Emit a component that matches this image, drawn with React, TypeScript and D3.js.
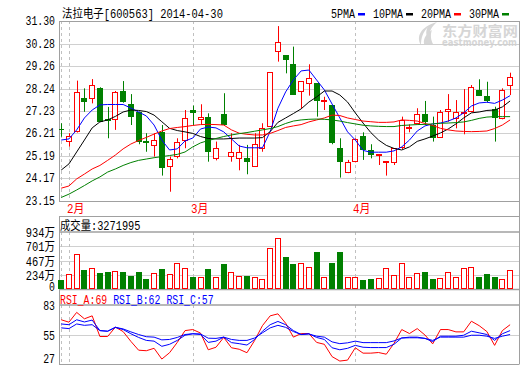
import React from 'react';
import * as d3 from 'd3';

const W = 520, H = 365;

const openP = [26.40,25.84,26.29,27.83,27.76,28.28,26.85,26.80,28.13,27.53, 27.19,25.85,25.66,26.29,24.68,25.16,25.87,27.26,26.80,26.94, 25.05,27.08,25.16,25.05,25.08,24.70,25.51,26.51,29.88,29.76, 29.34,28.07,28.43,28.48,27.62,27.50,25.54,24.41,24.93,26.09, 25.46,25.20,24.90,24.86,25.56,26.40,26.62,27.08,26.59,26.02, 27.17,26.86,27.09,27.17,28.18,27.90,27.30,26.85,28.36];
const highP = [26.67,26.22,28.60,28.25,28.67,28.30,27.41,28.13,28.58,27.99, 27.20,26.22,26.22,26.59,25.16,25.99,27.27,27.47,27.53,27.12, 25.84,28.03,26.22,25.69,25.69,26.22,26.67,28.98,31.07,29.76, 30.14,28.58,29.34,28.48,27.87,27.50,25.99,25.01,25.99,26.26, 25.72,25.27,24.96,25.54,26.97,26.62,27.35,27.68,26.97,27.27, 27.99,27.72,28.22,28.40,28.66,28.55,27.42,28.25,28.96];
const lowP = [26.06,25.61,26.25,27.19,27.57,26.74,25.99,26.37,27.60,26.59, 25.72,25.38,25.16,24.30,23.57,25.08,25.54,26.59,26.59,24.93, 24.99,26.59,24.93,24.54,24.36,24.70,25.38,26.51,29.46,28.93, 27.95,27.35,27.92,26.97,27.27,25.72,24.21,24.41,24.90,25.01, 25.08,24.78,24.30,24.78,25.50,26.26,26.62,26.59,25.84,26.02, 26.74,26.44,26.17,27.17,27.92,27.62,25.84,26.85,27.95];
const closeP = [26.35,26.11,28.07,27.65,28.40,26.74,26.77,28.07,27.62,26.97, 25.84,25.78,25.90,24.63,25.05,25.84,26.92,27.15,26.94,25.38, 25.56,26.59,25.36,25.38,24.93,25.72,26.44,28.98,30.34,29.53, 27.95,28.58,28.73,27.68,27.71,25.76,24.90,24.93,25.96,25.46, 25.23,25.27,24.96,25.54,26.82,26.49,27.08,26.71,26.02,27.19, 27.30,27.19,27.17,28.33,27.92,27.68,26.90,28.18,28.78];

const volume = [161,258,580,322,349,279,295,306,295,231, 295,177,279,338,258,430,349,215,204,338, 204,424,285,225,225,204,172,671,832,526, 419,430,365,607,204,430,607,204,215,161, 172,188,349,242,430,204,269,285,172,188, 295,204,349,365,204,258,204,172,327];

const ma5 = [25.91,25.96,26.37,26.91,27.27,27.50,27.52,27.52,27.52,27.36, 27.18,27.00,26.59,25.91,25.46,25.51,25.87,26.00,26.41,26.50, 26.46,26.28,25.96,25.64,25.56,25.56,25.56,26.29,27.35,28.09, 28.63,29.04,29.08,28.63,28.18,27.54,26.91,26.28,25.91,25.44, 25.36,25.36,25.36,25.42,25.60,25.91,26.32,26.55,26.64,26.68, 26.77,26.91,27.14,27.45,27.59,27.62,27.57,27.72,27.92];
const ma10 = [24.55,24.83,25.37,25.91,26.46,26.73,26.82,26.98,27.18,27.27, 27.25,27.20,27.04,26.74,26.44,26.34,26.28,26.21,26.07,25.98, 25.96,25.96,25.98,26.00,26.00,26.00,26.02,26.29,26.71,26.91, 27.11,27.32,27.63,27.86,28.13,28.13,27.95,27.63,27.14,26.68, 26.25,25.91,25.67,25.53,25.46,25.60,25.85,25.96,26.09,26.23, 26.41,26.64,26.91,27.14,27.18,27.25,27.27,27.41,27.68];
const ma20 = [23.73,23.83,24.15,24.37,24.60,24.76,24.99,25.23,25.51,25.73, 25.89,26.03,26.18,26.32,26.43,26.48,26.52,26.57,26.61,26.62, 26.61,26.59,26.37,26.22,26.17,26.14,26.14,26.21,26.34,26.48, 26.55,26.61,26.73,26.82,26.91,27.04,27.02,26.91,26.84,26.77, 26.74,26.71,26.71,26.73,26.82,26.80,26.77,26.66,26.57,26.44, 26.37,26.32,26.30,26.29,26.30,26.32,26.43,26.59,26.82];
const ma30 = [23.31,23.46,23.65,23.85,24.06,24.24,24.46,24.60,24.76,24.89, 24.99,25.05,25.11,25.16,25.21,25.26,25.37,25.60,25.78,25.89, 25.98,26.07,26.14,26.20,26.25,26.31,26.37,26.43,26.52,26.66, 26.77,26.82,26.85,26.86,26.85,26.82,26.77,26.70,26.64,26.58, 26.55,26.53,26.52,26.52,26.57,26.59,26.61,26.62,26.64,26.67, 26.68,26.70,26.73,26.80,26.89,26.95,26.97,26.97,26.97];

const rsiA = [69.0,66.7,76.0,69.9,72.7,53.1,53.1,62.0,57.8,48.5, 40.1,39.6,41.9,31.7,37.7,47.5,58.7,59.7,56.4,40.5, 42.9,52.2,42.4,41.0,37.7,49.4,63.4,72.7,74.6,65.7, 52.5,55.9,55.9,47.5,45.7,34.0,29.8,30.7,42.4,37.3, 37.3,37.9,36.3,46.6,59.7,55.9,60.6,54.5,46.1,59.7, 59.7,57.5,57.5,67.6,63.4,57.8,44.7,58.7,64.3];
const rsiB = [65.0,64.3,69.0,66.9,68.7,58.7,58.1,61.8,59.7,55.7, 52.2,49.4,48.7,43.8,45.7,49.4,54.3,55.7,55.0,47.5, 48.7,52.5,47.3,46.3,45.0,50.3,58.1,64.3,67.4,64.3, 58.7,55.0,55.7,52.2,50.3,42.4,40.5,41.9,44.7,42.9, 42.6,42.6,42.6,45.7,51.7,52.5,52.5,51.3,48.2,53.4, 53.4,53.4,54.3,58.1,56.6,55.0,49.4,55.7,58.7];
const rsiC = [61.3,60.6,65.0,63.7,64.3,58.7,58.1,61.8,60.3,57.5, 55.0,52.9,52.5,49.9,50.3,52.2,55.0,55.7,55.5,51.5, 51.3,52.5,50.3,49.4,49.4,51.7,56.6,61.3,63.7,61.8, 57.8,55.0,55.5,53.4,52.5,48.0,46.3,47.1,48.7,47.3, 47.3,47.3,47.3,48.9,51.7,51.9,51.9,51.3,49.4,52.5, 52.5,52.5,52.5,54.3,54.3,53.4,51.3,53.4,55.0];

const priceTicks = [31.30, 30.28, 29.26, 28.24, 27.23, 26.21, 25.19, 24.17, 23.15];
const priceTickLabels = ['31.30', '30.28', '29.26', '28.24', '27.23', '26.21', '25.19', '24.17', '23.15'];
const volTicks = [934, 701, 467, 234, 0];
const volTickLabels = ['934万', '701万', '467万', '234万', '0'];
const rsiTicks = [83, 55, 27];
const rsiTickLabels = ['83', '55', '27'];
const monthIdx = [1, 17, 38];
const monthLabels = ['2月', '3月', '4月'];
const dashIdx = [0, 1, 17, 38];
const maNames = ['5PMA', '10PMA', '20PMA', '30PMA'];
const maColors = ['#0000ff', '#000000', '#ff0000', '#008000'];
const titleText = '法拉电子[600563] 2014-04-30';
const volTitle = '成交量:3271995';
const rsiNames = ['RSI_A', 'RSI_B', 'RSI_C'];
const rsiLast = ['69', '62', '57'];
const rsiColors = ['#ff0000', '#0000ff', '#0000ff'];

const RED = '#ff0000', GREEN = '#008000';
const FONT = "'Liberation Mono','DejaVu Sans Mono','Noto Sans CJK SC',monospace";

function textLen(s: string, a = 5.9, c = 11.5) {
  let n = 0;
  for (const ch of s) n += ch.charCodeAt(0) > 255 ? c : a;
  return n;
}

function T(props: { x: number; y: number; s: string; fill?: string; anchor?: string; size?: number; a?: number; c?: number; weight?: string }) {
  const { x, y, s, fill = '#000', anchor = 'start', size = 12, a, c, weight } = props;
  const len = textLen(s, a, c);
  const x0 = anchor === 'end' ? x - len : x;
  return (
    <text x={x0} y={y} fontSize={size} fill={fill} textLength={len} lengthAdjust="spacingAndGlyphs" fontFamily={FONT} fontWeight={weight}>
      {s}
    </text>
  );
}

const L = 59, R = 519;
const mainTop = 21, mainBot = 201;
const volBoxTop = 216, volTop = 232, volBot = 289.5;
const rsiTop = 305, rsiBot = 364;

export default function App() {
  const n = closeP.length;
  const xs = d3.scaleLinear().domain([0, n - 1]).range([61.2, 510.1]);
  const yP = d3.scaleLinear().domain([23.15, 31.30]).range([mainBot, mainTop]);
  const yV = d3.scaleLinear().domain([0, 934]).range([290, volTop]);
  const yR = d3.scaleLinear().domain([27, 83]).range([rsiBot, rsiTop]);

  const cx = (i: number) => Math.round(xs(i));

  const maLine = d3.line<number>().x((_, i) => xs(i)).y((d) => yP(d));
  const rsiLine = d3.line<number>().x((_, i) => xs(i)).y((d) => yR(d));
  const mas = [ma5, ma10, ma20, ma30];
  const rsis = [rsiA, rsiB, rsiC];

  const frame = '#a0a0a0';
  const grid = '#d0d0d0';
  const dash = '#c0c0c0';

  const legend: { x: number; dx: number; name: string; color: string }[] = [];
  let lx = 331;
  maNames.forEach((nm, k) => {
    const len = textLen(nm, 6);
    legend.push({ x: lx, dx: lx + len + 3, name: nm, color: maColors[k] });
    lx = lx + len + 3 + 7 + 8;
  });

  let rx = 60;
  const rsiTitle = rsiNames.map((nm, k) => {
    const s = `${nm}:${rsiLast[k]}`;
    const item = { x: rx, s, color: rsiColors[k] };
    rx += textLen(s) + 6;
    return item;
  });

  return (
    <svg width={W} height={H} style={{ position: 'absolute', left: 0, top: 0 }} xmlns="http://www.w3.org/2000/svg">
      <defs>
        <clipPath id="cMain"><rect x={L} y={mainTop} width={R - L} height={mainBot - mainTop} /></clipPath>
        <clipPath id="cRsi"><rect x={L} y={rsiTop} width={R - L} height={rsiBot - rsiTop} /></clipPath>
      </defs>
      <rect x={0} y={0} width={W} height={H} fill="#fff" />

      {/* watermark */}
      <g fill="#d6d6d6">
        <path d="M421,45 C416,37 420,27 437,22 C431,27 428,33 430,41 C426,37 425,31 428,27 C423,32 421,38 421,45 Z" />
        <path d="M424,44 C423,38 427,33 432,30 C430,35 431,40 433,44 Z" />
        <text x={442} y={36} fontSize={14} fontWeight="bold" fontFamily="'Noto Sans CJK SC',sans-serif" textLength={76} lengthAdjust="spacingAndGlyphs">东方财富网</text>
        <text x={442} y={46} fontSize={10} fontWeight="bold" fontFamily="'DejaVu Sans',sans-serif" textLength={75} lengthAdjust="spacingAndGlyphs">eastmoney.com</text>
      </g>

      {priceTicks.slice(1, -1).map((p, k) => (
        <line key={'pg' + k} x1={L} x2={R} y1={Math.round(yP(p)) + 0.5} y2={Math.round(yP(p)) + 0.5} stroke={grid} />
      ))}
      {volTicks.slice(1, -1).map((v, k) => (
        <line key={'vg' + k} x1={L} x2={R} y1={Math.round(yV(v)) + 0.5} y2={Math.round(yV(v)) + 0.5} stroke={grid} />
      ))}
      {rsiTicks.slice(1, -1).map((v, k) => (
        <line key={'rg' + k} x1={L} x2={R} y1={Math.round(yR(v)) + 0.5} y2={Math.round(yR(v)) + 0.5} stroke={grid} />
      ))}

      {dashIdx.map((i, k) => (
        <g key={'dv' + k} stroke={dash} strokeDasharray="3,3">
          <line x1={cx(i) + 0.5} x2={cx(i) + 0.5} y1={mainTop} y2={mainBot} />
          <line x1={cx(i) + 0.5} x2={cx(i) + 0.5} y1={volTop} y2={volBot} />
          <line x1={cx(i) + 0.5} x2={cx(i) + 0.5} y1={rsiTop} y2={rsiBot} />
        </g>
      ))}

      <g stroke={frame} fill="none">
        <line x1={L} x2={R + 0.5} y1={mainTop + 0.5} y2={mainTop + 0.5} />
        <line x1={L} x2={R + 0.5} y1={mainBot + 0.5} y2={mainBot + 0.5} />
        <line x1={L + 0.5} x2={L + 0.5} y1={mainTop} y2={mainBot} />
        <line x1={R + 0.5} x2={R + 0.5} y1={mainTop} y2={rsiBot} />
        <line x1={L} x2={R + 0.5} y1={volBoxTop + 0.5} y2={volBoxTop + 0.5} />
        <line x1={L + 0.5} x2={L + 0.5} y1={volBoxTop} y2={rsiBot} />
        <line x1={L} x2={R + 0.5} y1={volTop} y2={volTop} strokeWidth={1.5} />
        <line x1={L} x2={R + 0.5} y1={volBot} y2={volBot} strokeWidth={1.5} />
        <line x1={L} x2={R + 0.5} y1={rsiTop} y2={rsiTop} strokeWidth={1.5} />
        <line x1={L} x2={R + 0.5} y1={rsiBot + 0.5} y2={rsiBot + 0.5} />
      </g>

      <g clipPath="url(#cMain)">
        {closeP.map((c, i) => {
          const o = openP[i];
          const up = c >= o;
          const col = up ? RED : GREEN;
          const x = cx(i);
          const top = Math.round(yP(Math.max(o, c)));
          const bot = Math.round(yP(Math.min(o, c)));
          const h = Math.max(1, bot - top);
          return (
            <g key={'c' + i}>
              <line x1={x + 0.5} x2={x + 0.5} y1={yP(highP[i])} y2={yP(lowP[i])} stroke={col} />
              {up ? (
                <rect x={x - 2.5} y={top + 0.5} width={5} height={Math.max(1, h - 1)} fill="#fff" stroke={col} />
              ) : (
                <rect x={x - 3} y={top} width={6} height={h} fill={col} />
              )}
            </g>
          );
        })}
        {mas.map((m, k) => (
          <path key={'ma' + k} d={maLine(m) || ''} fill="none" stroke={maColors[k]} strokeWidth={1} />
        ))}
      </g>

      {volume.map((v, i) => {
        const up = closeP[i] >= openP[i];
        const x = cx(i);
        const t = Math.round(yV(v));
        const b = 289;
        return up ? (
          <rect key={'v' + i} x={x - 2.5} y={t + 0.5} width={5} height={b - t - 1} fill="#fff" stroke={RED} />
        ) : (
          <rect key={'v' + i} x={x - 3} y={t} width={6} height={b - t} fill={GREEN} />
        );
      })}

      <g clipPath="url(#cRsi)">
        {rsis.map((r, k) => (
          <path key={'r' + k} d={rsiLine(r) || ''} fill="none" stroke={rsiColors[k]} strokeWidth={1} />
        ))}
      </g>

      {priceTicks.map((p, k) => (
        <T key={'pl' + k} x={55} y={yP(p) + 4} s={priceTickLabels[k]} anchor="end" />
      ))}
      {volTicks.map((v, k) => (
        <T key={'vl' + k} x={55} y={k === volTicks.length - 1 ? 291 : yV(v) + 4.5} s={volTickLabels[k]} anchor="end" />
      ))}
      {rsiTicks.map((v, k) => (
        <T key={'rl' + k} x={55} y={k === rsiTicks.length - 1 ? 363 : yR(v) + 5} s={rsiTickLabels[k]} anchor="end" />
      ))}

      {monthIdx.map((i, k) => (
        <T key={'m' + k} x={cx(i) - 2} y={213} s={monthLabels[k]} fill={RED} />
      ))}

      <T x={62} y={18} s={titleText} c={11.25} a={6.1} />
      {legend.map((lg, k) => (
        <g key={'lg' + k}>
          <T x={lg.x} y={18} s={lg.name} a={6} />
          <rect x={lg.dx} y={13} width={7} height={2.5} fill={lg.color} />
        </g>
      ))}
      <T x={60} y={230} s={volTitle} c={11.1} />
      {rsiTitle.map((it, k) => (
        <T key={'rt' + k} x={it.x} y={304} s={it.s} fill={it.color} />
      ))}
    </svg>
  );
}
